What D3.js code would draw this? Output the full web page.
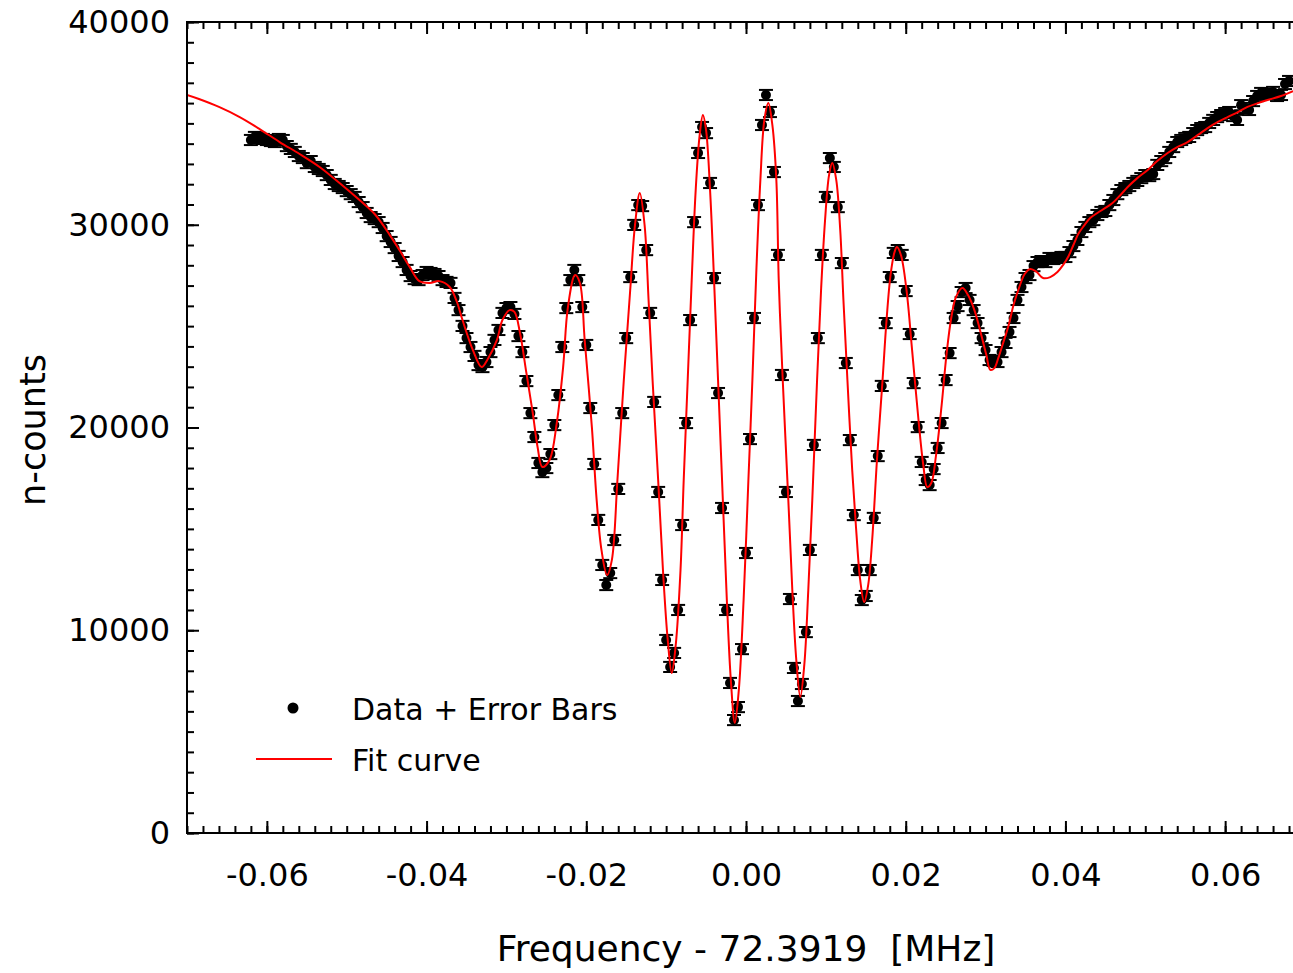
<!DOCTYPE html>
<html>
<head>
<meta charset="utf-8">
<script src="https://cdn.jsdelivr.net/npm/d3@7"></script>
<style>
  body { margin: 0; background: #fff; }
  text { font-family: "DejaVu Sans", sans-serif; fill: #000; }
</style>
</head>
<body>
<div id="viz"></div>
<script>

// measured points (frequency offset in MHz, neutron counts)
var dataFreq = [
  -0.062,-0.0615,-0.061,-0.0605,-0.06,-0.0595,-0.059,-0.0585,-0.058,-0.0575,
  -0.057,-0.0565,-0.056,-0.0555,-0.055,-0.0545,-0.054,-0.0535,-0.053,-0.0525,
  -0.052,-0.0515,-0.051,-0.0505,-0.05,-0.0495,-0.049,-0.0485,-0.048,-0.0475,
  -0.047,-0.0465,-0.046,-0.0455,-0.045,-0.0445,-0.044,-0.0435,-0.043,-0.0425,
  -0.042,-0.0415,-0.041,-0.0405,-0.04,-0.0395,-0.039,-0.0385,-0.038,-0.0375,
  -0.037,-0.0365,-0.036,-0.0355,-0.035,-0.0345,-0.034,-0.0335,-0.033,-0.0325,
  -0.032,-0.0315,-0.031,-0.0305,-0.03,-0.0295,-0.029,-0.0285,-0.028,-0.0275,
  -0.027,-0.0265,-0.026,-0.0255,-0.025,-0.0245,-0.024,-0.0235,-0.023,-0.0225,
  -0.022,-0.0215,-0.021,-0.0205,-0.02,-0.0195,-0.019,-0.0185,-0.018,-0.0175,
  -0.017,-0.0165,-0.016,-0.0155,-0.015,-0.0145,-0.014,-0.0135,-0.013,-0.0125,
  -0.012,-0.0115,-0.011,-0.0105,-0.01,-0.0095,-0.009,-0.0085,-0.008,-0.0075,
  -0.007,-0.0065,-0.006,-0.0055,-0.005,-0.0045,-0.004,-0.0035,-0.003,-0.0025,
  -0.002,-0.0015,-0.001,-0.0005,0,0.0005,0.001,0.0015,0.002,0.0025,
  0.003,0.0035,0.004,0.0045,0.005,0.0055,0.006,0.0065,0.007,0.0075,
  0.008,0.0085,0.009,0.0095,0.01,0.0105,0.011,0.0115,0.012,0.0125,
  0.013,0.0135,0.014,0.0145,0.015,0.0155,0.016,0.0165,0.017,0.0175,
  0.018,0.0185,0.019,0.0195,0.02,0.0205,0.021,0.0215,0.022,0.0225,
  0.023,0.0235,0.024,0.0245,0.025,0.0255,0.026,0.0265,0.027,0.0275,
  0.028,0.0285,0.029,0.0295,0.03,0.0305,0.031,0.0315,0.032,0.0325,
  0.033,0.0335,0.034,0.0345,0.035,0.0355,0.036,0.0365,0.037,0.0375,
  0.038,0.0385,0.039,0.0395,0.04,0.0405,0.041,0.0415,0.042,0.0425,
  0.043,0.0435,0.044,0.0445,0.045,0.0455,0.046,0.0465,0.047,0.0475,
  0.048,0.0485,0.049,0.0495,0.05,0.0505,0.051,0.0515,0.052,0.0525,
  0.053,0.0535,0.054,0.0545,0.055,0.0555,0.056,0.0565,0.057,0.0575,
  0.058,0.0585,0.059,0.0595,0.06,0.0605,0.061,0.0615,0.062,0.0625,
  0.063,0.0635,0.064,0.0645,0.065,0.0655,0.066,0.0665,0.067,0.0675,0.068
];

var dataCounts = [
  34180,34330,34280,34230,34180,34130,34080,34230,34180,33880,
  33740,33590,33390,33290,33040,33140,32850,32750,32650,32450,
  32210,32010,31910,31810,31660,31510,31370,31120,30870,30580,
  30380,30280,30130,29840,29440,29150,28850,28460,28160,27770,
  27470,27320,27270,27520,27670,27620,27570,27470,27270,27180,
  27130,26390,25790,25010,24410,23970,23530,23080,22980,23230,
  23720,24320,24810,25650,25890,25940,25600,24510,23720,22290,
  20710,19530,18250,17800,18000,18690,20120,21600,23970,25890,
  27270,27770,27270,25940,24070,20960,18200,15440,13220,12230,
  12820,14450,16970,20710,24410,27420,29990,30970,30920,28750,
  25650,21260,16820,12480,9520,8190,8880,11000,15190,20220,
  25300,30130,33540,34820,34520,32060,27370,21700,16030,11000,
  7400,5570,6210,9070,13810,19430,25400,30970,34920,36400,
  35560,32600,28510,22590,16820,11540,8140,6510,7350,9910,
  13960,19140,24410,28510,31370,33290,32850,30870,28110,23180,
  19380,15680,12970,11490,11690,12970,15540,18590,22050,25150,
  27420,28610,28750,28510,26730,24610,22190,20020,18300,17410,
  17160,17950,18990,20220,22340,23670,25400,25990,26680,26880,
  26290,25790,25150,24410,23820,23330,23280,23230,23720,24170,
  24710,25400,26290,26930,27370,27520,27960,28160,28210,28160,
  28360,28310,28360,28410,28410,28650,28950,29250,29640,29890,
  30130,30230,30480,30630,30680,30970,31220,31510,31710,31810,
  31910,32060,32160,32300,32450,32400,32500,32950,33140,33290,
  33590,33830,34080,34180,34280,34330,34520,34670,34770,34820,
  35020,35170,35310,35410,35510,35560,35360,35170,35900,35760,
  35660,36100,36350,36500,36450,36450,36550,36350,36400,36940,37090
];

// half height of each error bar, in counts
var errorHalf = 250;

// fit curve
var fitFreq = [
  -0.07,-0.0685,-0.066,-0.0634,-0.0609,-0.0584,-0.0559,-0.0534,-0.0509,-0.0484,
  -0.0465,-0.0446,-0.0434,-0.0421,-0.0409,-0.0396,-0.0384,-0.0371,-0.0362,-0.0355,
  -0.0342,-0.0331,-0.0324,-0.0312,-0.0305,-0.0296,-0.029,-0.0283,-0.0275,-0.0267,
  -0.0261,-0.0255,-0.0246,-0.0237,-0.0229,-0.0223,-0.0214,-0.0208,-0.0202,-0.0193,
  -0.0187,-0.0181,-0.0174,-0.0168,-0.0161,-0.0153,-0.0145,-0.0139,-0.0133,-0.0127,
  -0.0122,-0.0117,-0.011,-0.0104,-0.0098,-0.0093,-0.0088,-0.0082,-0.0078,-0.0073,
  -0.0068,-0.0063,-0.0058,-0.0054,-0.005,-0.0045,-0.004,-0.0035,-0.0029,-0.0024,
  -0.0019,-0.0014,-0.0009,-0.0003,0.0003,0.0008,0.0013,0.0018,0.0023,0.0028,
  0.0033,0.0038,0.0041,0.0046,0.0053,0.0058,0.0063,0.0068,0.0073,0.0078,
  0.0083,0.0089,0.0094,0.0099,0.0104,0.0108,0.0113,0.0118,0.0122,0.0127,
  0.0133,0.0138,0.0143,0.0148,0.0153,0.0158,0.0164,0.0171,0.0176,0.0181,
  0.0186,0.0189,0.0194,0.0201,0.0208,0.0216,0.0222,0.0227,0.0232,0.0238,
  0.0245,0.0251,0.0257,0.0263,0.0271,0.0278,0.0286,0.0293,0.0301,0.0306,
  0.0311,0.0316,0.0322,0.0329,0.0335,0.0341,0.0349,0.0356,0.0364,0.0372,
  0.0381,0.039,0.0397,0.0404,0.041,0.0416,0.0423,0.0431,0.044,0.045,
  0.0459,0.0469,0.0478,0.049,0.0503,0.0515,0.0528,0.054,0.0553,0.0566,
  0.0578,0.0591,0.0603,0.0616,0.0628,0.0641,0.0653,0.067,0.0686,0.07
];

var fitCounts = [
  36400,36200,35810,35310,34720,34080,33490,32850,32060,31220,
  30530,29490,28750,27910,27220,27130,27220,26930,26190,25300,
  23820,22980,23330,24310,25300,25790,25700,24660,22690,20710,
  19040,18050,18400,20220,22980,25940,27520,27130,24310,20020,
  16420,13960,12720,13460,17410,22340,26780,29990,31560,29990,
  26290,22340,17410,12970,9520,7890,9270,12970,17410,22340,
  27270,31710,34430,35410,34670,31710,27270,22340,16420,11490,
  7550,5430,7050,11490,17410,22340,27770,32210,35170,36000,
  34920,32210,27270,22340,16420,11980,8530,6710,8290,11980,
  16420,22340,26780,30230,32450,33040,32210,29740,26290,22340,
  17900,14940,12480,11390,12230,14450,18400,22340,25300,27520,
  28650,28900,28510,26780,23820,20370,18150,17060,17260,18640,
  21110,23570,25400,26440,26880,26530,25790,24810,23570,22840,
  22930,23430,24170,25060,26040,26780,27570,27820,27670,27370,
  27420,27670,28010,28460,29000,29540,29940,30330,30580,30830,
  31070,31470,31860,32300,32700,33140,33540,33830,34080,34430,
  34770,35070,35310,35560,35810,36000,36150,36350,36600,36740
];

var xTickLabels = [-0.06, -0.04, -0.02, 0, 0.02, 0.04, 0.06];
var yTickLabels = [0, 10000, 20000, 30000, 40000];
var legendLabels = ["Data + Error Bars", "Fit curve"];

var W = 1293, H = 973;
var margin = {top: 22, left: 187, bottom: 140},
    plotRight = 1305;

var svg = d3.select("#viz").append("svg")
    .attr("width", W)
    .attr("height", H);

var x = d3.scaleLinear()
    .domain([-0.07, 0.07])
    .range([margin.left, plotRight]);

var y = d3.scaleLinear()
    .domain([0, 40000])
    .range([H - margin.bottom, margin.top]);

// plain hyphen for negatives, like the original
var fmtX = d3.formatLocale({decimal: ".", thousands: "", grouping: [3], currency: ["", ""], minus: "-"}).format(".2f");

var points = dataFreq.map(function(f, i){ return {f: f, c: dataCounts[i]}; });
var fit = fitFreq.map(function(f, i){ return {f: f, c: fitCounts[i]}; });

svg.append("clipPath").attr("id", "clip")
  .append("rect")
    .attr("x", x.range()[0]).attr("y", y.range()[1])
    .attr("width", x.range()[1] - x.range()[0])
    .attr("height", y.range()[0] - y.range()[1]);

var plot = svg.append("g").attr("clip-path", "url(#clip)");

// error bars + dots
var pt = plot.append("g").selectAll("g")
    .data(points).enter().append("g")
    .attr("transform", function(d){ return "translate(" + x(d.f) + ",0)"; });

pt.append("line")
    .attr("y1", function(d){ return y(d.c - errorHalf); })
    .attr("y2", function(d){ return y(d.c + errorHalf); })
    .style("stroke", "#000").style("stroke-width", 2);

[-1, 1].forEach(function(s){
  pt.append("line")
      .attr("x1", -7).attr("x2", 7)
      .attr("y1", function(d){ return y(d.c + s * errorHalf); })
      .attr("y2", function(d){ return y(d.c + s * errorHalf); })
      .style("stroke", "#000").style("stroke-width", 2);
});

pt.append("circle")
    .attr("cy", function(d){ return y(d.c); })
    .attr("r", 5)
    .style("fill", "#000");

// fit curve
var line = d3.line()
    .x(function(d){ return x(d.f); })
    .y(function(d){ return y(d.c); })
    .curve(d3.curveCatmullRom.alpha(0.5));

plot.append("path")
    .datum(fit)
    .attr("d", line)
    .style("fill", "none")
    .style("stroke", "#ff0000")
    .style("stroke-width", 2);

// axes: major + minor ticks, all pointing inward
var xMinor = x.ticks(70), yMinor = y.ticks(40);
var y0 = y.range()[0], y1 = y.range()[1];

function styleAxis(g){
  g.select(".domain").remove();
  g.selectAll("line").style("stroke", "#000").style("stroke-width", 2);
  g.selectAll("text").style("font-size", "32px").style("font-family", "DejaVu Sans, sans-serif");
}

svg.append("g").attr("transform", "translate(0," + y0 + ")")
    .call(d3.axisBottom(x).tickValues(xMinor).tickSize(-7).tickFormat(""))
    .call(styleAxis);
svg.append("g").attr("transform", "translate(0," + y0 + ")")
    .call(d3.axisBottom(x).tickValues(xTickLabels).tickSize(-12).tickPadding(30).tickFormat(fmtX))
    .call(styleAxis);
svg.append("g").attr("transform", "translate(0," + y1 + ")")
    .call(d3.axisTop(x).tickValues(xMinor).tickSize(-7).tickFormat(""))
    .call(styleAxis);
svg.append("g").attr("transform", "translate(0," + y1 + ")")
    .call(d3.axisTop(x).tickValues(xTickLabels).tickSize(-12).tickFormat(""))
    .call(styleAxis);

svg.append("g").attr("transform", "translate(" + x.range()[0] + ",0)")
    .call(d3.axisLeft(y).tickValues(yMinor).tickSize(-7).tickFormat(""))
    .call(styleAxis);
svg.append("g").attr("transform", "translate(" + x.range()[0] + ",0)")
    .call(d3.axisLeft(y).tickValues(yTickLabels).tickSize(-12).tickPadding(17).tickFormat(d3.format("d")))
    .call(styleAxis);
svg.append("g").attr("transform", "translate(" + x.range()[1] + ",0)")
    .call(d3.axisRight(y).tickValues(yMinor).tickSize(-7).tickFormat(""))
    .call(styleAxis);
svg.append("g").attr("transform", "translate(" + x.range()[1] + ",0)")
    .call(d3.axisRight(y).tickValues(yTickLabels).tickSize(-12).tickFormat(""))
    .call(styleAxis);

// frame
svg.append("rect")
    .attr("x", x.range()[0]).attr("y", y1)
    .attr("width", x.range()[1] - x.range()[0])
    .attr("height", y0 - y1)
    .style("fill", "none")
    .style("stroke", "#000")
    .style("stroke-width", 2);

// axis titles
svg.append("text")
    .attr("x", 746)
    .attr("y", 961)
    .style("text-anchor", "middle")
    .style("font-size", "36px")
    .style("white-space", "pre")
    .text("Frequency - 72.3919  [MHz]");

svg.append("text")
    .attr("transform", "translate(45,430) rotate(-90)")
    .style("text-anchor", "middle")
    .style("font-size", "35px")
    .text("n-counts");

// legend
var legend = svg.append("g");

legend.append("circle")
    .attr("cx", 293).attr("cy", 708).attr("r", 5.5)
    .style("fill", "#000");

legend.append("line")
    .attr("x1", 256).attr("x2", 332)
    .attr("y1", 759).attr("y2", 759)
    .style("stroke", "#ff0000")
    .style("stroke-width", 2);

legend.selectAll("text.lab")
    .data(legendLabels).enter().append("text")
    .attr("class", "lab")
    .attr("x", 352)
    .attr("y", function(d, i){ return 720 + i * 51; })
    .style("font-size", "30px")
    .text(function(d){ return d; });

</script>
</body>
</html>
